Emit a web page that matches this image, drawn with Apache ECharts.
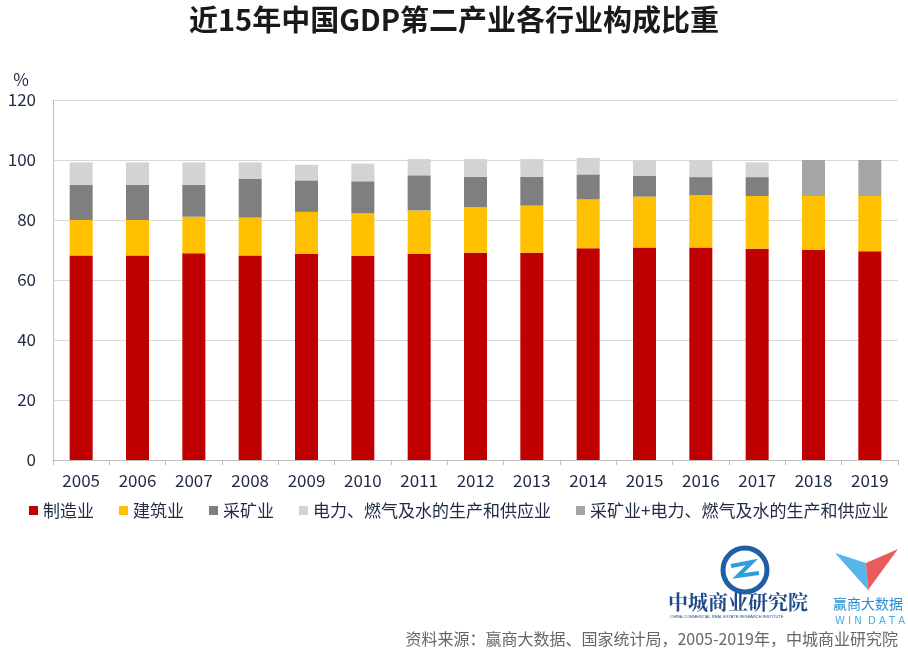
<!DOCTYPE html>
<html><head><meta charset="utf-8">
<script src="https://cdn.jsdelivr.net/npm/echarts@6/dist/echarts.min.js"></script>
<style>html,body{margin:0;padding:0;background:#fff}#c{width:908px;height:652px}</style>
</head><body><div id="c"></div>
<script>
var years = ['2005','2006','2007','2008','2009','2010','2011','2012','2013','2014','2015','2016','2017','2018','2019'];
var manufacturing = [68.2,68.2,68.9,68.2,68.7,68.0,68.7,69.1,69.1,70.6,70.8,70.8,70.4,70.0,69.6];
var construction = [11.8,11.8,12.2,12.6,14.0,14.2,14.5,15.1,15.7,16.3,17.0,17.4,17.6,18.0,18.4];
var mining = [11.7,11.7,10.6,13.0,10.5,10.7,11.7,10.2,9.6,8.3,6.9,6.1,6.3,'-','-'];
var utilities = [7.5,7.5,7.5,5.4,5.2,5.9,5.4,5.9,5.9,5.5,5.3,5.7,4.9,'-','-'];
var miningUtilities = ['-','-','-','-','-','-','-','-','-','-','-','-','-',12.0,12.0];
var seriesNames = ['制造业','建筑业','采矿业','电力、燃气及水的生产和供应业','采矿业+电力、燃气及水的生产和供应业'];
var seriesColors = ['#C00000','#FFC000','#7F7F7F','#D3D3D3','#A5A5A5'];
var yTicks = {min:0, max:120, interval:20};

var font = '"Microsoft YaHei","Noto Sans CJK SC","Noto Sans",sans-serif';
var dataSets = [manufacturing, construction, mining, utilities, miningUtilities];
var series = dataSets.map(function(d,i){
  return {name: seriesNames[i], type:'bar', stack:'total', data:d, barWidth:23,
    itemStyle:{color:seriesColors[i]}};
});
var chart = echarts.init(document.getElementById('c'), null, {renderer:'canvas'});
chart.setOption({
  animation:false,
  backgroundColor:'#fff',
  title:{text:'近15年中国GDP第二产业各行业构成比重', left:'center', top:0,
    textStyle:{fontFamily:font, fontSize:29, fontWeight:'bold', color:'#1a1a1a'}},
  grid:{left:53, right:10, top:100, bottom:192, containLabel:false},
  legend:{left:24, top:497, itemWidth:9, itemHeight:9, icon:'rect', itemGap:25,
    textStyle:{fontFamily:font, fontSize:17, color:'#1f2a44'}},
  xAxis:{type:'category', data:years,
    axisLine:{lineStyle:{color:'#bfbfbf'}},
    axisTick:{show:true, length:5, lineStyle:{color:'#bfbfbf'}},
    axisLabel:{fontFamily:font, fontSize:17, color:'#1f2a44', margin:12}},
  yAxis:{type:'value', min:yTicks.min, max:yTicks.max, interval:yTicks.interval,
    name:'%', nameLocation:'end', nameGap:12,
    nameTextStyle:{fontFamily:font, fontSize:17, color:'#1f2a44', align:'right', padding:[0,24,0,0]},
    axisLine:{show:true, lineStyle:{color:'#bfbfbf'}},
    axisTick:{show:false},
    splitLine:{lineStyle:{color:'#d9d9d9'}},
    axisLabel:{fontFamily:font, fontSize:17, color:'#1f2a44', margin:17}},
  series: series,
  graphic:[
    {type:'circle', shape:{cx:745, cy:570, r:22}, style:{fill:'none', stroke:'#1f5fa6', lineWidth:5}},
    {type:'polyline', shape:{points:[[731,566],[752,562],[738,576],[759,573]]}, style:{fill:'none', stroke:'#29a0da', lineWidth:4}},
    {type:'text', left:668, top:592, style:{text:'中城商业研究院', font:'bold 20px "Noto Serif CJK SC","Noto Sans CJK SC",serif', fill:'#1f4a8a'}},
    {type:'text', left:670, top:615, style:{text:'CHINA COMMERCIAL REAL ESTATE RESEARCH INSTITUTE', font:'4px sans-serif', fill:'#1f4a8a'}},
    {type:'polygon', shape:{points:[[835,553],[866,563],[868,590]]}, style:{fill:'#3aa8e6', opacity:0.85}},
    {type:'polygon', shape:{points:[[898,549],[866,563],[868,590]]}, style:{fill:'#e84a4a', opacity:0.9}},
    {type:'text', left:833, top:597, style:{text:'赢商大数据', font:'14px "Noto Sans CJK SC",sans-serif', fill:'#2a8dd4'}},
    {type:'text', left:835, top:616, style:{text:'W I N  D A T A', font:'10px "DejaVu Sans",sans-serif', fill:'#4aaee0'}},
    {type:'text', right:10, top:631, style:{text:'资料来源：赢商大数据、国家统计局，2005-2019年，中城商业研究院', font:'16px "Noto Sans CJK SC",sans-serif', fill:'#666666', align:'right'}}
  ]
});
</script></body></html>
